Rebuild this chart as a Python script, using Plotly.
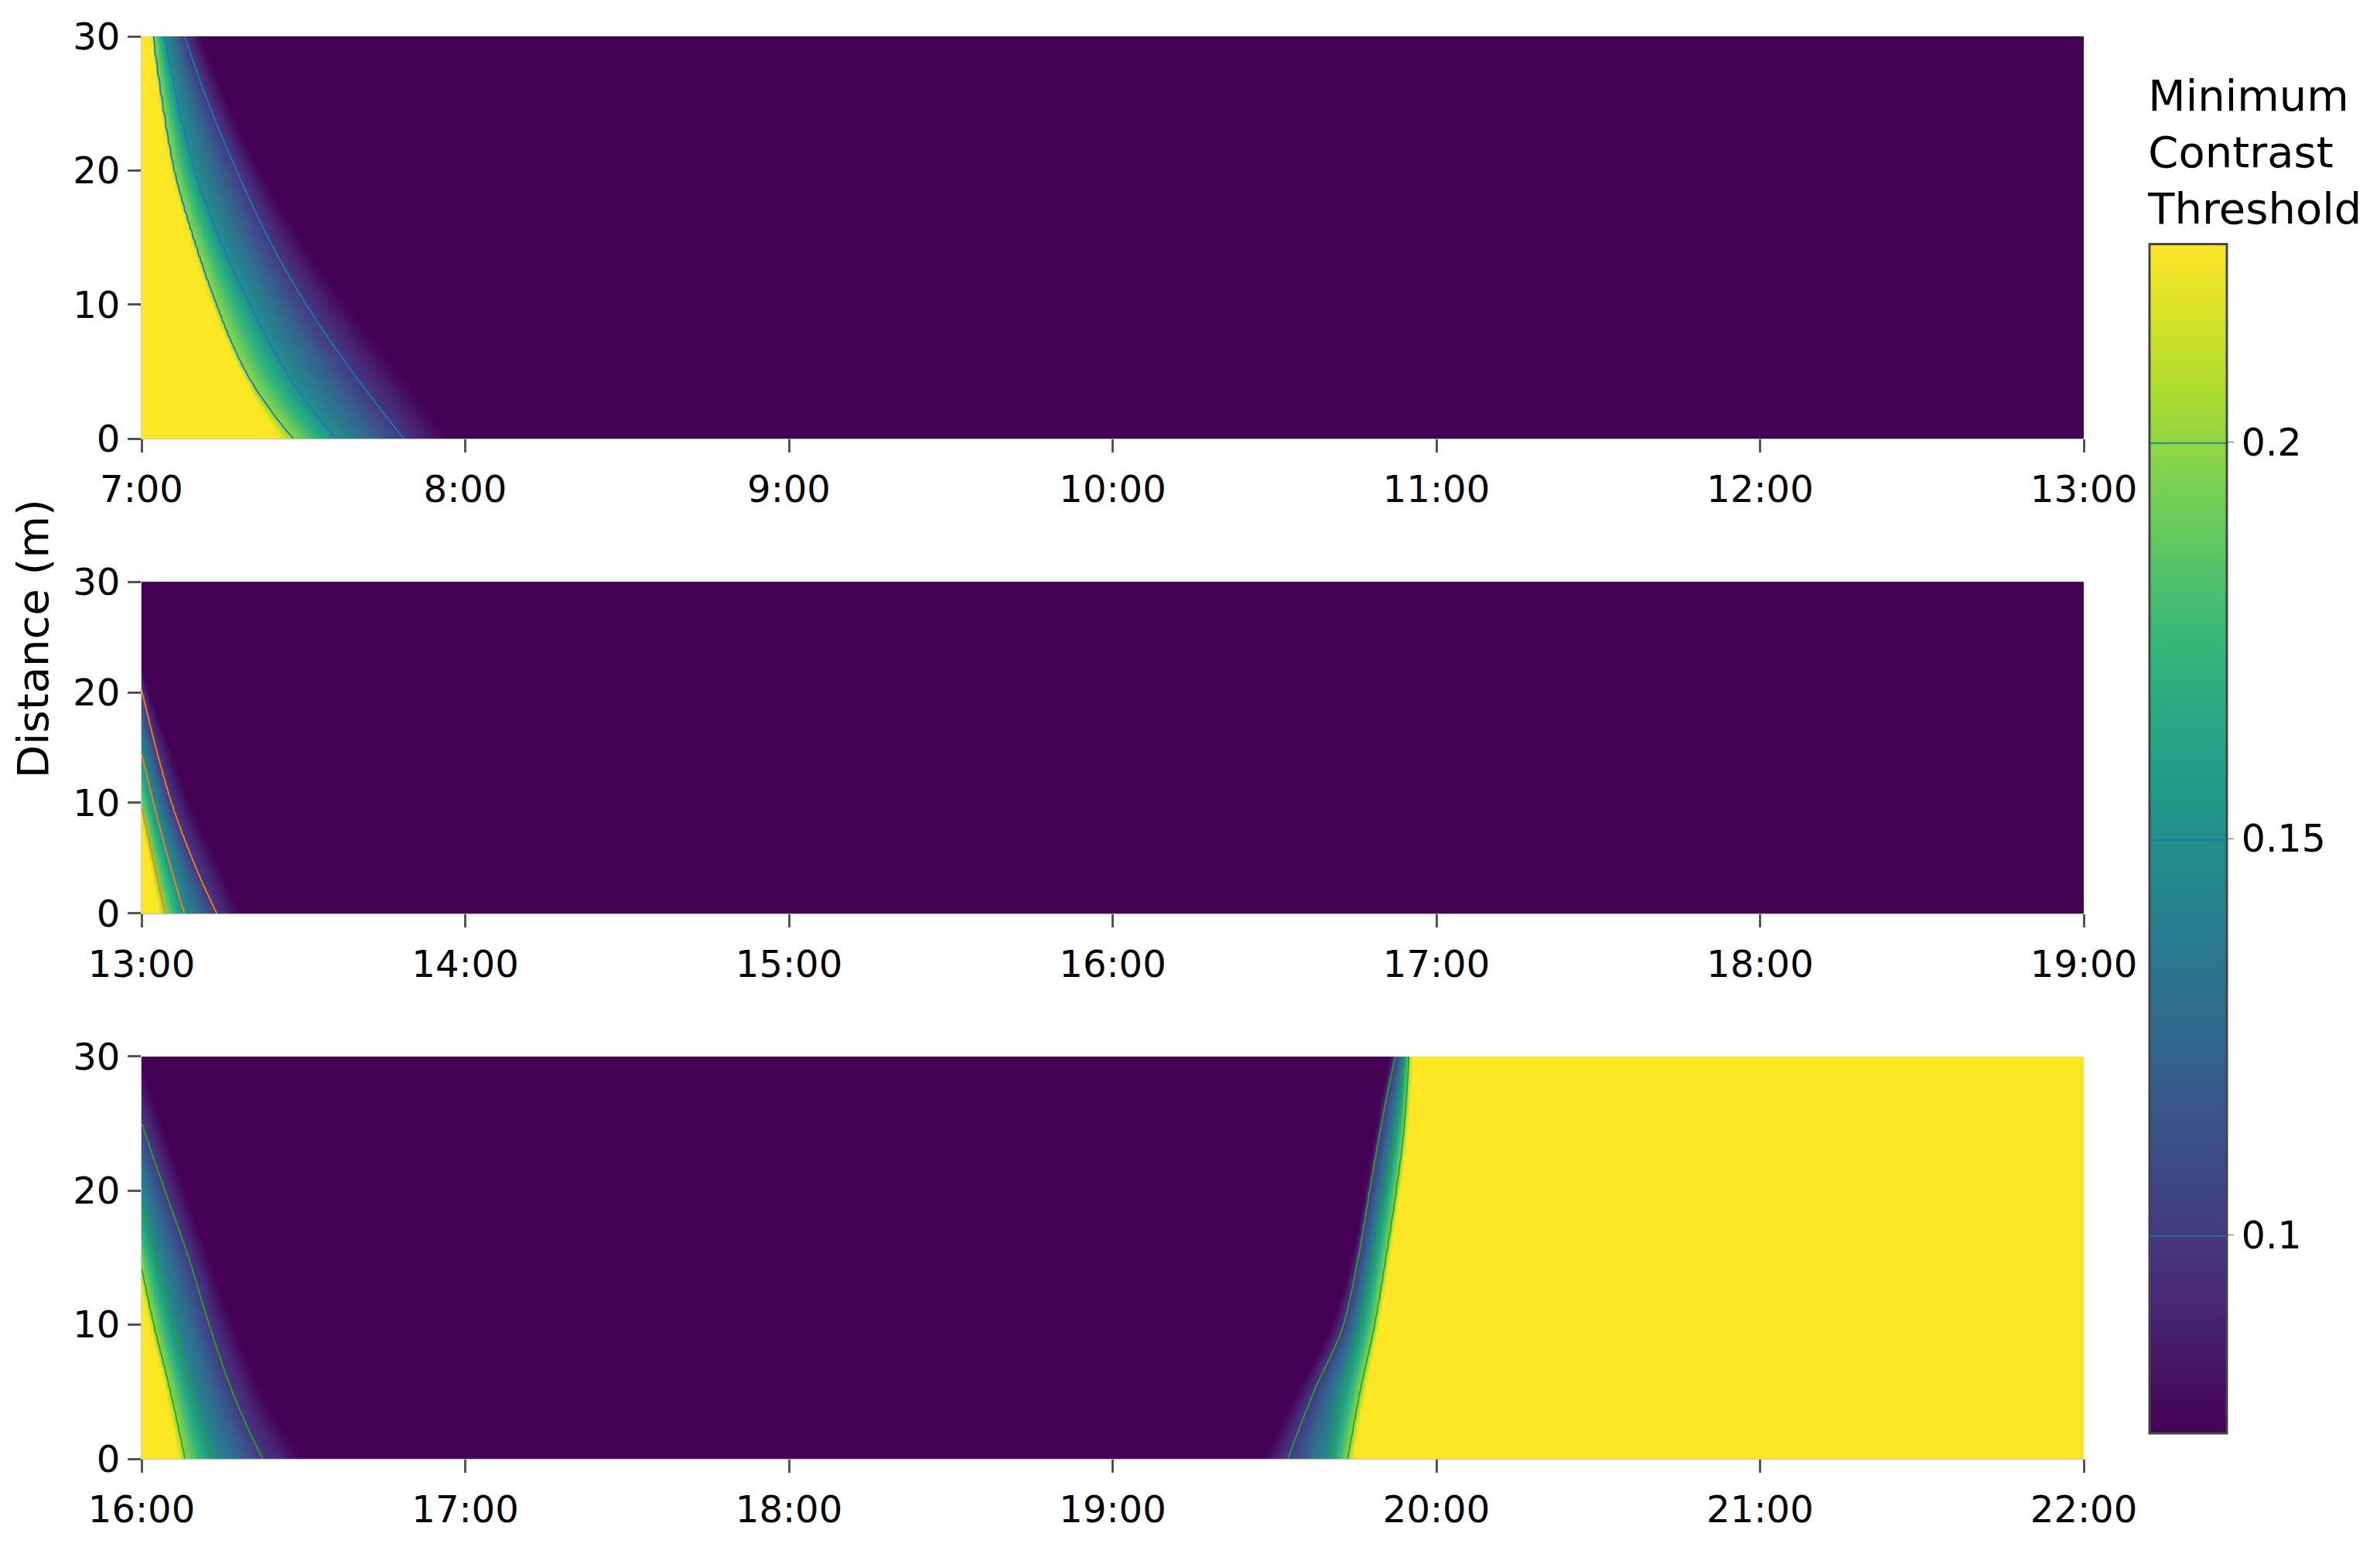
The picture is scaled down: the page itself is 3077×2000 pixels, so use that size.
import numpy as np
import plotly.graph_objects as go
from plotly.subplots import make_subplots

# distance rows (m) at which the contour crossings were read
distance = [0, 5, 10, 15, 20, 25, 30]
levels = [0.225, 0.2, 0.15, 0.1, 0.075]

# panel 1: minutes after 7:00 where the threshold has fallen to each level
am_225 = [25.6, 18.3, 13.0, 9.0, 5.5, 3.4, 1.8]
am_200 = [28.1, 19.2, 13.8, 9.5, 6.0, 3.8, 2.1]
am_150 = [35.9, 26.7, 20.0, 14.3, 9.8, 6.7, 4.3]
am_100 = [48.6, 39.0, 30.5, 23.4, 17.6, 12.4, 8.0]
am_075 = [57.0, 47.7, 38.0, 29.5, 22.0, 16.0, 11.0]

# panel 2: minutes after 13:00
noon_225 = [3.3, 1.4, -0.6, -2.8, -5.2, -8.0, -11.0]
noon_200 = [4.3, 2.0, -0.3, -3.0, -6.0, -10.0, -14.0]
noon_150 = [7.9, 4.9, 2.2, -0.3, -2.8, -5.5, -8.5]
noon_100 = [13.9, 9.3, 5.5, 2.6, 0.1, -2.4, -5.0]
noon_075 = [18.5, 13.8, 9.0, 5.2, 1.4, -1.5, -4.0]

# panel 3: minutes after 16:00, falling at the start...
pm_fall_225 = [6.7, 4.4, 1.5, -1.2, -4.2, -7.2, -10.2]
pm_fall_200 = [8.0, 5.3, 2.2, -0.5, -3.5, -6.5, -9.5]
pm_fall_150 = [13.0, 9.2, 5.8, 2.5, -0.6, -3.6, -6.5]
pm_fall_100 = [22.4, 16.8, 12.5, 8.7, 4.3, 0.0, -3.8]
pm_fall_075 = [30.0, 22.4, 17.0, 12.4, 8.1, 3.8, -0.8]
# ...and rising again at dusk
pm_rise_075 = [208.0, 214.0, 220.5, 224.3, 226.8, 228.9, 231.2]
pm_rise_100 = [212.5, 217.3, 222.8, 225.5, 227.6, 229.8, 232.4]
pm_rise_150 = [220.2, 222.6, 225.9, 228.3, 230.5, 232.6, 234.1]
pm_rise_200 = [223.6, 225.9, 228.6, 230.7, 232.6, 234.1, 234.8]
pm_rise_225 = [224.6, 226.8, 229.3, 231.3, 233.2, 234.7, 235.5]

panel_start = [7, 13, 16]
tick_hours = [[7, 8, 9, 10, 11, 12, 13], [13, 14, 15, 16, 17, 18, 19],
              [16, 17, 18, 19, 20, 21, 22]]
line_colors = ['#1f77b4', '#ff7f0e', '#2ca02c']

minutes = np.arange(0, 360.01, 0.5)
d_fine = np.arange(0, 30.01, 0.25)


def pchip(xk, yk, x):
    # monotone cubic through the read crossing times
    xk = np.asarray(xk, float)
    yk = np.asarray(yk, float)
    h = np.diff(xk)
    delta = np.diff(yk) / h
    n = len(xk)
    m = np.zeros(n)
    for k in range(1, n - 1):
        if delta[k - 1] * delta[k] > 0:
            w1 = 2 * h[k] + h[k - 1]
            w2 = h[k] + 2 * h[k - 1]
            m[k] = (w1 + w2) / (w1 / delta[k - 1] + w2 / delta[k])
    m[0] = ((2 * h[0] + h[1]) * delta[0] - h[0] * delta[1]) / (h[0] + h[1])
    if np.sign(m[0]) != np.sign(delta[0]):
        m[0] = 0
    m[-1] = ((2 * h[-1] + h[-2]) * delta[-1] - h[-1] * delta[-2]) / (h[-1] + h[-2])
    if np.sign(m[-1]) != np.sign(delta[-1]):
        m[-1] = 0
    idx = np.clip(np.searchsorted(xk, x) - 1, 0, n - 2)
    t = (x - xk[idx]) / h[idx]
    h00 = 2 * t**3 - 3 * t**2 + 1
    h10 = t**3 - 2 * t**2 + t
    h01 = -2 * t**3 + 3 * t**2
    h11 = t**3 - t**2
    return (h00 * yk[idx] + h10 * h[idx] * m[idx]
            + h01 * yk[idx + 1] + h11 * h[idx] * m[idx + 1])


def build_field(fall, rise=None):
    fall_t = [pchip(distance, row, d_fine) for row in fall]
    rise_t = [pchip(distance, row, d_fine) for row in rise] if rise else []
    z = []
    for j in range(len(d_fine)):
        knots = [r[j] for r in fall_t]
        vals = list(levels)
        if rise:
            knots += [r[j] for r in rise_t]
            vals += levels[::-1]
        knots = np.maximum.accumulate(np.array(knots) + np.arange(len(knots)) * 1e-3)
        z.append(np.round(np.interp(minutes, knots, vals), 4))
    return np.array(z)


fields = [
    build_field([am_225, am_200, am_150, am_100, am_075]),
    build_field([noon_225, noon_200, noon_150, noon_100, noon_075]),
    build_field([pm_fall_225, pm_fall_200, pm_fall_150, pm_fall_100, pm_fall_075],
                [pm_rise_075, pm_rise_100, pm_rise_150, pm_rise_200, pm_rise_225]),
]

fig = make_subplots(rows=3, cols=1)

for i in range(3):
    fig.add_trace(go.Contour(
        x=panel_start[i] + minutes / 60, y=d_fine, z=fields[i],
        colorscale='Viridis', zmin=0.075, zmax=0.225,
        autocontour=False,
        contours=dict(start=0.1, end=0.2, size=0.05, coloring='heatmap', showlines=True),
        line=dict(color=line_colors[i], width=1.8),
        showscale=(i == 0),
        colorbar=dict(
            title=dict(text='Minimum<br>Contrast<br>Threshold', side='top',
                       font=dict(size=56, color='black')),
            x=1.0298, xanchor='left', y=0.4946, yanchor='middle',
            len=0.9641, lenmode='fraction', thickness=100,
            outlinewidth=3, outlinecolor='#444',
            tickvals=[0.1, 0.15, 0.2], ticks='outside', ticklen=8, tickcolor='#666',
            tickfont=dict(size=49, color='black'),
        ),
        hoverinfo='skip',
    ), row=i + 1, col=1)

domains = [[0.7172, 1.0], [0.3834, 0.6166], [0.0, 0.2828]]
for i in range(3):
    fig.update_xaxes(
        range=[panel_start[i], panel_start[i] + 6],
        tickvals=tick_hours[i], ticktext=['%d:00' % h for h in tick_hours[i]],
        ticks='outside', ticklen=17, tickwidth=3, tickcolor='#555',
        ticklabelstandoff=6,
        showgrid=False, zeroline=False, showline=True, linecolor='#bbb', linewidth=1,
        tickfont=dict(size=48, color='black'),
        row=i + 1, col=1)
    fig.update_yaxes(
        range=[0, 30], domain=domains[i], tickvals=[0, 10, 20, 30],
        ticks='outside', ticklen=17, tickwidth=3, tickcolor='#555',
        showgrid=False, zeroline=False, showline=True, linecolor='#ccc', linewidth=1,
        tickfont=dict(size=48, color='black'),
        row=i + 1, col=1)

fig.add_annotation(text='Distance (m)', xref='paper', yref='paper',
                   x=-0.0561, y=0.5764, xanchor='center', yanchor='middle',
                   textangle=-90, showarrow=False, font=dict(size=56, color='black'))

fig.update_layout(
    width=3069, height=1992,
    margin=dict(l=175, r=381, t=39, b=114),
    paper_bgcolor='white', plot_bgcolor='white',
    font=dict(family='DejaVu Sans', color='black'),
    showlegend=False,
)

fig.write_html('out.html')
